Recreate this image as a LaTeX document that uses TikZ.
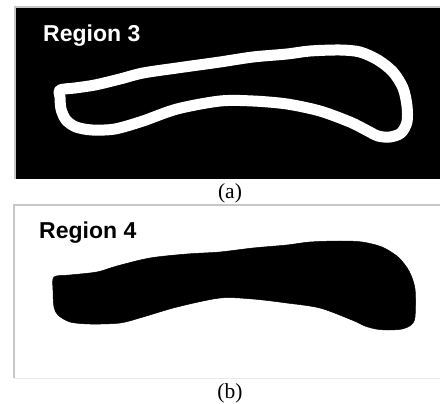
\documentclass[tikz,border=0pt]{standalone}
\usepackage{fontspec}
\setmainfont{Liberation Serif}
\setsansfont{Liberation Sans}
\usetikzlibrary{positioning}

\begin{document}
\begin{tikzpicture}[
        x=1pt, y=-1pt,
        frame/.style={draw=black!22, line width=1.5pt},
        faint/.style={draw=black!8, line width=1pt},
        ring/.style={draw=white, line width=11pt, line join=round},
        blob/.style={fill=black, draw=black, line width=0.5pt},
        tag/.style={font=\sffamily\bfseries\fontsize{23}{27}\selectfont, inner sep=0pt, anchor=base west},
        caption/.style={font=\fontsize{21.5}{25}\selectfont, inner sep=0pt, anchor=base}
    ]
    \useasboundingbox (0,0) rectangle (440,404);
    % Panel (a)
    \fill[black] (15,7) rectangle (441,179);
    \draw[frame] (441,7) -- (15,7) -- (15,179);
    \node[tag, text=white] (taga) at (43,42) {Region 3};
    \draw[ring] plot[smooth cycle, tension=0.5] coordinates {
        (60,90) (75,88) (95,85) (120,79) (143,73) (177,68) (220,62) (253,57)
        (287,54) (310,51) (340,50) (360,52) (378,60) (393,72) (403,88) (407,106)
        (407,122) (401,133) (390,137) (378,136) (366,130) (350,122) (320,111)
        (287,104) (253,101) (220,101) (177,109) (143,121) (115,129) (92,130)
        (76,127) (66,120) (61,109) (60,97)};
    \node[caption] (capa) at (230,199) {(a)};
    % Panel (b)
    \draw[frame] (441,205) -- (14,205) -- (14,378);
    \draw[faint] (14,378) -- (441,378);
    \node[tag] (tagb) at (39,238) {Region 4};
    \filldraw[blob] plot[smooth cycle, tension=0.5] coordinates {
        (54,277) (70,275) (97,272) (117,266) (150,258) (187,254) (220,252)
        (253,248) (287,245) (310,242) (340,241) (362,242) (382,247) (398,257)
        (409,271) (415,289) (415,317) (411,325) (402,329) (388,330) (376,329)
        (365,326) (352,320) (320,308) (287,303) (253,299) (220,298) (177,307)
        (143,317) (120,323) (90,324) (70,322) (58,315) (54,307) (53,290)};
    \node[caption] (capb) at (230,398) {(b)};
\end{tikzpicture}
\end{document}
